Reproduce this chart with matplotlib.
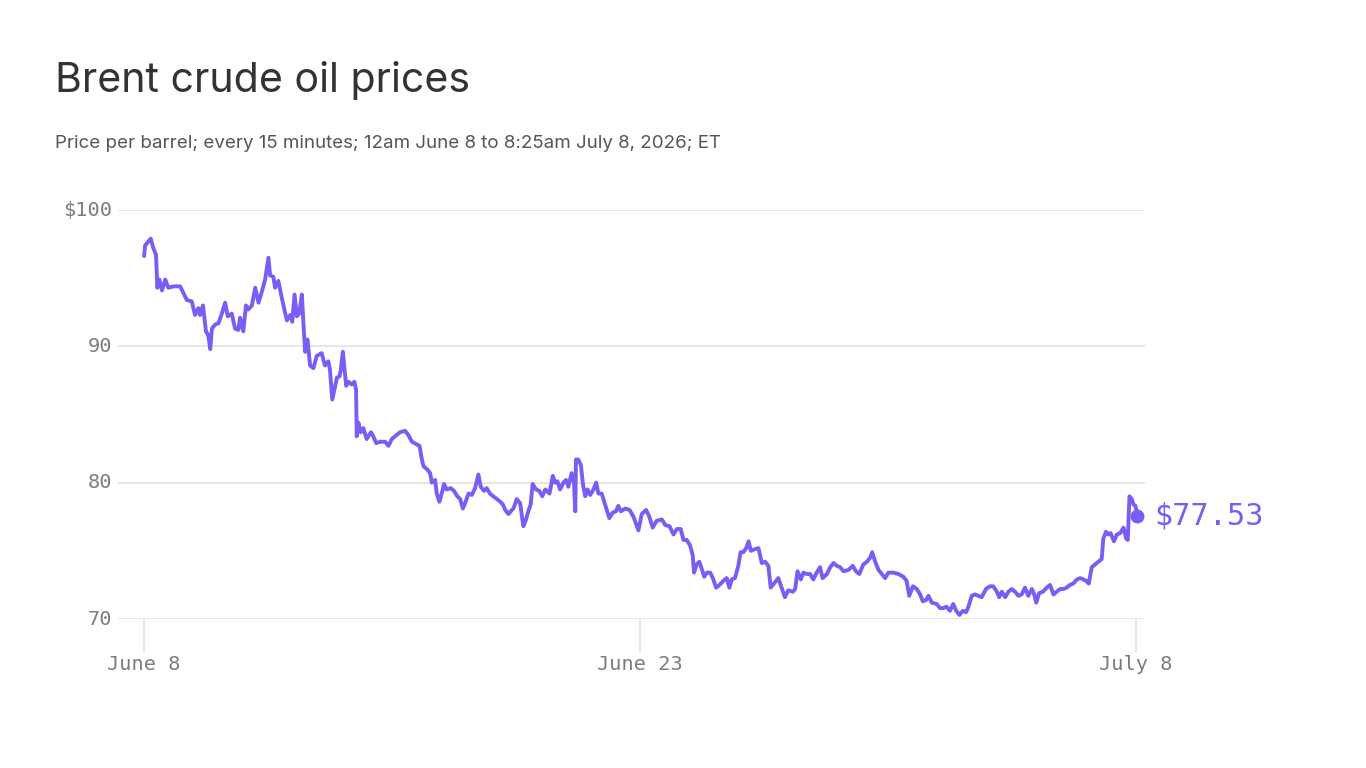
import matplotlib
matplotlib.use("Agg")
import matplotlib.pyplot as plt

# Days since 12am June 8 and Brent price (USD per barrel)
days = [0.00, 0.03, 0.13, 0.20, 0.28, 0.36, 0.40, 0.46, 0.54, 0.64, 0.73, 0.89, 1.09, 1.19, 1.29,
        1.44, 1.54, 1.64, 1.69, 1.78, 1.87, 1.94, 2.00, 2.05, 2.15, 2.25, 2.35, 2.45, 2.53, 2.65,
        2.75, 2.85, 2.90, 3.00, 3.08, 3.15, 3.26, 3.36, 3.46, 3.56, 3.66, 3.76, 3.81, 3.91, 3.96,
        4.06, 4.16, 4.26, 4.32, 4.42, 4.48, 4.55, 4.62, 4.69, 4.77, 4.82, 4.87, 4.94, 5.02, 5.12,
        5.22, 5.37, 5.47, 5.57, 5.62, 5.69, 5.78, 5.83, 5.91, 5.95, 6.01, 6.05, 6.11, 6.18, 6.28,
        6.36, 6.41, 6.43, 6.48, 6.55, 6.63, 6.73, 6.86, 6.93, 7.02, 7.14, 7.29, 7.39, 7.49, 7.59,
        7.74, 7.89, 7.99, 8.10, 8.25, 8.33, 8.40, 8.45, 8.55, 8.65, 8.70, 8.80, 8.85, 8.93, 9.00,
        9.07, 9.15, 9.27, 9.37, 9.47, 9.56, 9.64, 9.71, 9.81, 9.91, 10.01, 10.11, 10.18, 10.28, 10.36,
        10.46, 10.56, 10.67, 10.77, 10.85, 10.92, 11.02, 11.12, 11.17, 11.27, 11.37, 11.47, 11.55, 11.62, 11.69,
        11.75, 11.85, 11.95, 12.04, 12.13, 12.26, 12.36, 12.43, 12.50, 12.58, 12.68, 12.76, 12.83, 12.93, 13.00,
        13.04, 13.06, 13.13, 13.21, 13.27, 13.34, 13.41, 13.49, 13.59, 13.67, 13.74, 13.84, 13.94, 14.07, 14.17,
        14.27, 14.34, 14.42, 14.55, 14.68, 14.80, 14.95, 15.05, 15.18, 15.28, 15.38, 15.50, 15.66, 15.76, 15.89,
        16.01, 16.11, 16.23, 16.31, 16.41, 16.51, 16.59, 16.63, 16.71, 16.79, 16.86, 16.94, 17.02, 17.12, 17.20,
        17.30, 17.40, 17.52, 17.62, 17.70, 17.77, 17.87, 17.97, 18.04, 18.12, 18.21, 18.28, 18.35, 18.45, 18.58,
        18.68, 18.78, 18.88, 18.95, 19.08, 19.18, 19.25, 19.38, 19.48, 19.62, 19.69, 19.76, 19.86, 19.94, 20.04,
        20.14, 20.24, 20.34, 20.44, 20.52, 20.65, 20.75, 20.85, 20.95, 21.05, 21.15, 21.30, 21.43, 21.53, 21.63,
        21.75, 21.86, 21.96, 22.02, 22.11, 22.21, 22.31, 22.41, 22.51, 22.66, 22.81, 22.96, 23.06, 23.14, 23.25,
        23.37, 23.47, 23.55, 23.65, 23.72, 23.82, 23.97, 24.07, 24.17, 24.27, 24.37, 24.47, 24.56, 24.66, 24.76,
        24.86, 24.93, 25.03, 25.13, 25.23, 25.33, 25.46, 25.58, 25.68, 25.79, 25.86, 25.94, 26.04, 26.14, 26.24,
        26.34, 26.44, 26.54, 26.64, 26.74, 26.85, 26.92, 26.98, 27.07, 27.18, 27.30, 27.40, 27.50, 27.60, 27.70,
        27.80, 27.90, 28.00, 28.10, 28.21, 28.31, 28.41, 28.49, 28.57, 28.66, 28.76, 28.86, 28.96, 29.01, 29.09,
        29.16, 29.23, 29.33, 29.42, 29.52, 29.62, 29.70, 29.75, 29.80, 29.87, 29.92, 29.98, 30.04]

price = [96.65, 97.4, 97.7, 97.9, 97.2, 96.7, 94.3, 94.9, 94.1, 94.9, 94.3, 94.4, 94.4, 93.9, 93.4,
         93.3, 92.3, 92.8, 92.3, 93.0, 91.1, 90.8, 89.8, 91.3, 91.6, 91.7, 92.4, 93.2, 92.2, 92.4,
         91.3, 91.2, 92.1, 91.1, 93.0, 92.7, 93.0, 94.3, 93.2, 94.0, 94.9, 96.5, 95.2, 95.1, 94.3,
         94.8, 93.6, 92.5, 91.9, 92.3, 91.8, 93.8, 92.2, 92.4, 93.8, 91.6, 89.6, 90.5, 88.6, 88.4,
         89.3, 89.5, 88.6, 88.9, 88.3, 86.1, 87.1, 87.7, 87.8, 88.3, 89.6, 88.6, 87.1, 87.4, 87.2,
         87.4, 86.8, 83.4, 84.4, 83.7, 84.0, 83.2, 83.7, 83.4, 82.9, 83.0, 83.0, 82.7, 83.2, 83.4,
         83.7, 83.8, 83.5, 83.0, 82.8, 82.7, 81.7, 81.2, 81.0, 80.7, 80.0, 80.2, 79.2, 78.6, 79.2,
         79.9, 79.5, 79.6, 79.4, 79.0, 78.8, 78.1, 78.5, 79.2, 79.1, 79.6, 80.6, 79.7, 79.4, 79.6,
         79.2, 79.0, 78.8, 78.6, 78.4, 78.0, 77.7, 78.0, 78.1, 78.8, 78.5, 76.8, 77.3, 77.9, 78.4,
         79.9, 79.5, 79.4, 79.0, 79.5, 79.2, 80.5, 80.0, 80.1, 79.5, 80.0, 80.2, 79.7, 80.7, 80.0,
         77.9, 81.7, 81.7, 81.3, 79.9, 79.0, 79.5, 79.1, 79.5, 80.0, 79.2, 79.2, 78.4, 77.4, 77.8,
         77.9, 78.3, 77.9, 78.1, 78.0, 77.5, 76.5, 77.7, 78.0, 77.5, 76.7, 77.2, 77.3, 76.9, 76.8,
         76.2, 76.6, 76.6, 75.8, 75.8, 75.4, 74.7, 73.4, 74.0, 74.2, 73.7, 73.1, 73.4, 73.4, 73.0,
         72.3, 72.5, 72.8, 73.0, 72.3, 72.9, 73.0, 73.9, 74.9, 74.9, 75.2, 75.7, 75.0, 75.1, 75.2,
         74.1, 74.2, 73.9, 72.3, 72.7, 73.0, 72.5, 71.6, 72.1, 72.0, 72.2, 73.5, 72.9, 73.4, 73.3,
         73.3, 72.9, 73.4, 73.8, 73.0, 73.3, 73.8, 74.1, 73.9, 73.8, 73.5, 73.6, 73.9, 73.5, 73.3,
         74.0, 74.2, 74.5, 74.9, 74.2, 73.6, 73.3, 73.0, 73.4, 73.4, 73.3, 73.1, 72.8, 71.7, 72.4,
         72.2, 71.8, 71.3, 71.4, 71.7, 71.2, 71.1, 70.8, 70.8, 70.9, 70.6, 71.1, 70.6, 70.3, 70.6,
         70.5, 70.9, 71.7, 71.8, 71.7, 71.6, 72.2, 72.4, 72.4, 72.0, 71.6, 72.0, 71.6, 72.0, 72.2,
         72.0, 71.7, 71.8, 72.3, 71.7, 72.2, 71.8, 71.2, 71.9, 72.0, 72.3, 72.5, 71.8, 72.0, 72.2,
         72.2, 72.3, 72.5, 72.6, 72.9, 73.0, 72.9, 72.8, 72.6, 73.8, 74.0, 74.2, 74.4, 75.9, 76.4,
         76.2, 76.3, 75.7, 76.2, 76.3, 76.7, 75.9, 75.8, 79.0, 78.8, 78.4, 78.3, 77.53]

y_ticks = [70, 80, 90, 100]
y_labels = ["70", "80", "90", "$100"]
x_ticks = [0, 15, 30]
x_labels = ["June 8", "June 23", "July 8"]
last_label = "$77.53"

title = "Brent crude oil prices"
subtitle = "Price per barrel; every 15 minutes; 12am June 8 to 8:25am July 8, 2026; ET"

PURPLE = "#7b5cf5"
GREY_TXT = "#7d7d7d"
GRID = "#e1e1e1"
MONO = ["DejaVu Sans Mono"]

fig = plt.figure(figsize=(13.66, 7.68), dpi=100)
fig.patch.set_facecolor("white")

W, H = 1366, 768
ax_left, ax_right = 118 / W, 1145 / W
ax_top, ax_bot = 1 - 210 / H, 1 - 619 / H
ax = fig.add_axes([ax_left, ax_bot, ax_right - ax_left, ax_top - ax_bot])
ax.set_xlim(-0.79, 30.27)
ax.set_ylim(70, 100)

for s in ax.spines.values():
    s.set_visible(False)
ax.set_xticks([])
ax.set_yticks([])

for yv in y_ticks:
    ax.axhline(yv, color=GRID, lw=1.2, zorder=1)

# y tick labels
for yv, lab in zip(y_ticks, y_labels):
    ax.annotate(lab, xy=(0, yv), xycoords=("axes fraction", "data"),
                xytext=(-4, 0), textcoords="offset points",
                ha="right", va="center", fontsize=14.6, color=GREY_TXT, family=MONO)

# x ticks and labels
for xv, lab in zip(x_ticks, x_labels):
    ax.plot([xv, xv], [70, 67.6], color=GRID, lw=1.2, clip_on=False, zorder=1)
    ax.annotate(lab, xy=(xv, 70), xycoords="data", xytext=(0, -33),
                textcoords="offset points", ha="center", va="center",
                fontsize=14.6, color=GREY_TXT, family=MONO, annotation_clip=False)

ax.plot(days, price, color=PURPLE, lw=2.8, solid_joinstyle="round",
        clip_on=False, zorder=3)
ax.plot([days[-1]], [price[-1]], "o", color=PURPLE, ms=9, clip_on=False, zorder=4)
ax.annotate(last_label, xy=(days[-1], price[-1]), xytext=(12, 0),
            textcoords="offset points", ha="left", va="center",
            fontsize=21.8, color=PURPLE, family=MONO, annotation_clip=False)

fig.text(55 / W, 1 - 81 / H, title, ha="left", va="center", fontsize=29.6,
         color="#333333", family=["Inter", "DejaVu Sans"])
fig.text(55 / W, 1 - 144 / H, subtitle, ha="left", va="center", fontsize=13.5,
         color="#555555", family=["Inter", "DejaVu Sans"])

fig.savefig("out.png", dpi=100, facecolor="white")
